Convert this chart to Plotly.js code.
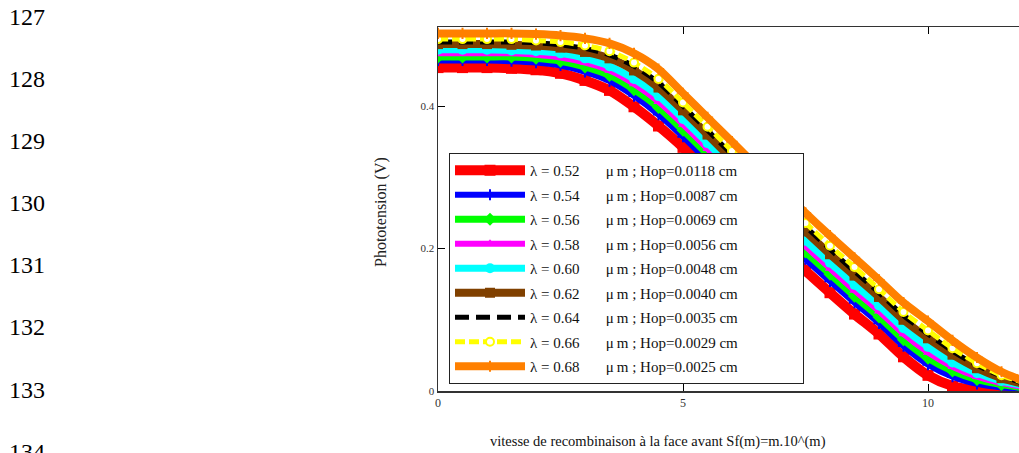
<!DOCTYPE html>
<html>
<head>
<meta charset="utf-8">
<script src="https://cdn.plot.ly/plotly-3.0.1.min.js"></script>
<style>
html,body{margin:0;padding:0;background:#fff;overflow:hidden;width:1019px;height:453px;}
#chart{width:1040px;height:453px;}
</style>
</head>
<body>
<div id="chart"></div>
<script>
// log10 of front-surface recombination velocity Sf(m)=m.10^(m)
const sfLog = [0,0.5,1,1.5,2,2.5,3,3.5,4,4.5,5,5.5,6,6.5,7,7.5,8,8.5,9,9.5,10,10.5,11,11.5,12];

// Phototension (V) for each wavelength
const v052 = [0.454,0.454,0.454,0.453,0.451,0.446,0.436,0.422,0.399,0.372,0.342,0.308,0.273,0.238,0.203,0.169,0.138,0.108,0.080,0.048,0.022,0.007,0.001,0.000,0.000];
const v054 = [0.464,0.464,0.464,0.463,0.461,0.457,0.448,0.435,0.414,0.388,0.357,0.323,0.288,0.254,0.219,0.185,0.154,0.124,0.095,0.063,0.037,0.020,0.010,0.005,0.003];
const v056 = [0.469,0.469,0.469,0.469,0.467,0.463,0.455,0.443,0.423,0.398,0.366,0.332,0.298,0.263,0.229,0.195,0.164,0.133,0.104,0.072,0.046,0.028,0.016,0.009,0.004];
const v058 = [0.474,0.474,0.474,0.474,0.472,0.468,0.461,0.450,0.431,0.406,0.374,0.340,0.305,0.271,0.237,0.203,0.172,0.141,0.112,0.080,0.054,0.034,0.020,0.011,0.005];
const v060 = [0.479,0.479,0.479,0.478,0.477,0.474,0.467,0.456,0.438,0.414,0.382,0.348,0.313,0.279,0.245,0.211,0.180,0.149,0.120,0.088,0.062,0.040,0.025,0.014,0.007];
const v062 = [0.487,0.487,0.487,0.486,0.485,0.482,0.476,0.467,0.450,0.426,0.394,0.360,0.325,0.291,0.257,0.224,0.192,0.162,0.132,0.100,0.074,0.051,0.032,0.018,0.009];
const v064 = [0.490,0.490,0.490,0.490,0.489,0.486,0.481,0.472,0.456,0.433,0.400,0.366,0.332,0.297,0.264,0.231,0.199,0.168,0.138,0.106,0.080,0.056,0.036,0.021,0.010];
const v066 = [0.494,0.494,0.494,0.494,0.492,0.490,0.485,0.477,0.461,0.438,0.405,0.371,0.337,0.303,0.269,0.236,0.204,0.174,0.143,0.111,0.085,0.060,0.039,0.022,0.011];
const v068 = [0.502,0.502,0.502,0.502,0.501,0.499,0.495,0.488,0.474,0.452,0.418,0.384,0.350,0.316,0.283,0.250,0.218,0.187,0.156,0.124,0.098,0.071,0.047,0.027,0.013];

const wavelengths = ['0.52','0.54','0.56','0.58','0.60','0.62','0.64','0.66','0.68'];
const hopValues = ['0.0118','0.0087','0.0069','0.0056','0.0048','0.0040','0.0035','0.0029','0.0025'];
const seriesValues = [v052,v054,v056,v058,v060,v062,v064,v066,v068];

const xTickVals = [0,5,10];
const xTickText = ['0','5','10'];
const yTickVals = [0,0.2,0.4];
const yTickText = ['0','0.2','0.4'];

const lineNumbers = ['127','128','129','130','131','132','133','134'];

// styles
const colors = ['#ff0000','#0000ff','#00ff00','#ff00ff','#00ffff','#804000','#000000','#ffff00','#ff8000'];
const widths = [10,6,7,6,7,8,5,5,8];
const dashes = ['solid','solid','solid','solid','solid','solid','14px,7px','10px,4px','solid'];
const markerSyms = ['square','cross-thin-open','diamond','triangle-up','circle','square','circle','circle','cross-thin-open'];
const markerSizes = [11,8,10,9,10,10,0,8,8];

const serif = 'Liberation Serif, Times New Roman, serif';
const NB = '\u00a0';

const traces = seriesValues.map((vals,i)=>({
  x: sfLog, y: vals,
  type:'scatter',
  mode: i===6 ? 'lines' : 'lines+markers',
  name: '\u03bb = ' + wavelengths[i] + NB.repeat(7) + '\u03bc' + '\u2009' + 'm ; Hop=' + hopValues[i] + ' cm' + NB.repeat(16),
  legendgroup: 'g'+i,
  line:{color:colors[i], width:widths[i], dash:dashes[i], shape:'spline', smoothing:0.8},
  marker:{symbol:markerSyms[i], size:markerSizes[i], color: i===7 ? '#ffffff' : colors[i],
          line:{color:colors[i], width: (i===1||i===8) ? 2 : (i===7 ? 2 : 0)}},
  cliponaxis:true
}));

const plotL = 438, plotT = 27, plotW = 588, plotH = 364;
const px2x = p => (p-plotL)/plotW;
const py2y = p => (plotT+plotH-p)/plotH;
const lineNumY = [17,79,141,203,265,327,390,452];

const annotations = lineNumbers.map((t,i)=>({
  text:t, xref:'paper', yref:'paper', x:px2x(7), y:py2y(lineNumY[i]),
  xanchor:'left', yanchor:'middle', showarrow:false,
  font:{family:serif, size:24, color:'#000'}
}));
annotations.push({
  text:'vitesse de recombinaison \u00e0 la face avant Sf(m)=m.10^(m)',
  xref:'paper', yref:'paper', x:px2x(658), y:py2y(441), xanchor:'center', yanchor:'middle',
  showarrow:false, font:{family:serif, size:14.5, color:'#111'}
});
annotations.push({
  text:'Phototension (V)', textangle:-90,
  xref:'paper', yref:'paper', x:px2x(381), y:py2y(212), xanchor:'center', yanchor:'middle',
  showarrow:false, font:{family:serif, size:16, color:'#222'}
});

const layout = {
  width:1040, height:453,
  margin:{l:plotL, r:1040-plotL-plotW, t:plotT, b:453-plotT-plotH, pad:0},
  paper_bgcolor:'#fff', plot_bgcolor:'#fff',
  showlegend:true,
  legend:{
    x:px2x(449), y:py2y(153), xanchor:'left', yanchor:'top',
    bgcolor:'#fff', bordercolor:'#222', borderwidth:1,
    font:{family:serif, size:15, color:'#111'},
    itemwidth:70, traceorder:'grouped', tracegroupgap:2,
    itemclick:false, itemdoubleclick:false
  },
  xaxis:{
    range:[0,12], showgrid:false, zeroline:false,
    showline:true, linecolor:'#333', linewidth:1.5, mirror:'ticks',
    ticks:'inside', ticklen:7, tickcolor:'#000', tickwidth:1,
    tickvals:xTickVals, ticktext:xTickText,
    tickfont:{family:serif, size:12, color:'#333'}
  },
  yaxis:{
    range:[0,0.511], showgrid:false, zeroline:false,
    showline:true, linecolor:'#333', linewidth:1.5, mirror:'ticks',
    ticks:'inside', ticklen:7, tickcolor:'#000', tickwidth:1,
    tickvals:yTickVals, ticktext:yTickText,
    tickfont:{family:serif, size:11, color:'#333'}
  },
  annotations: annotations
};

Plotly.newPlot('chart', traces, layout, {staticPlot:true, displayModeBar:false});
</script>
</body>
</html>
